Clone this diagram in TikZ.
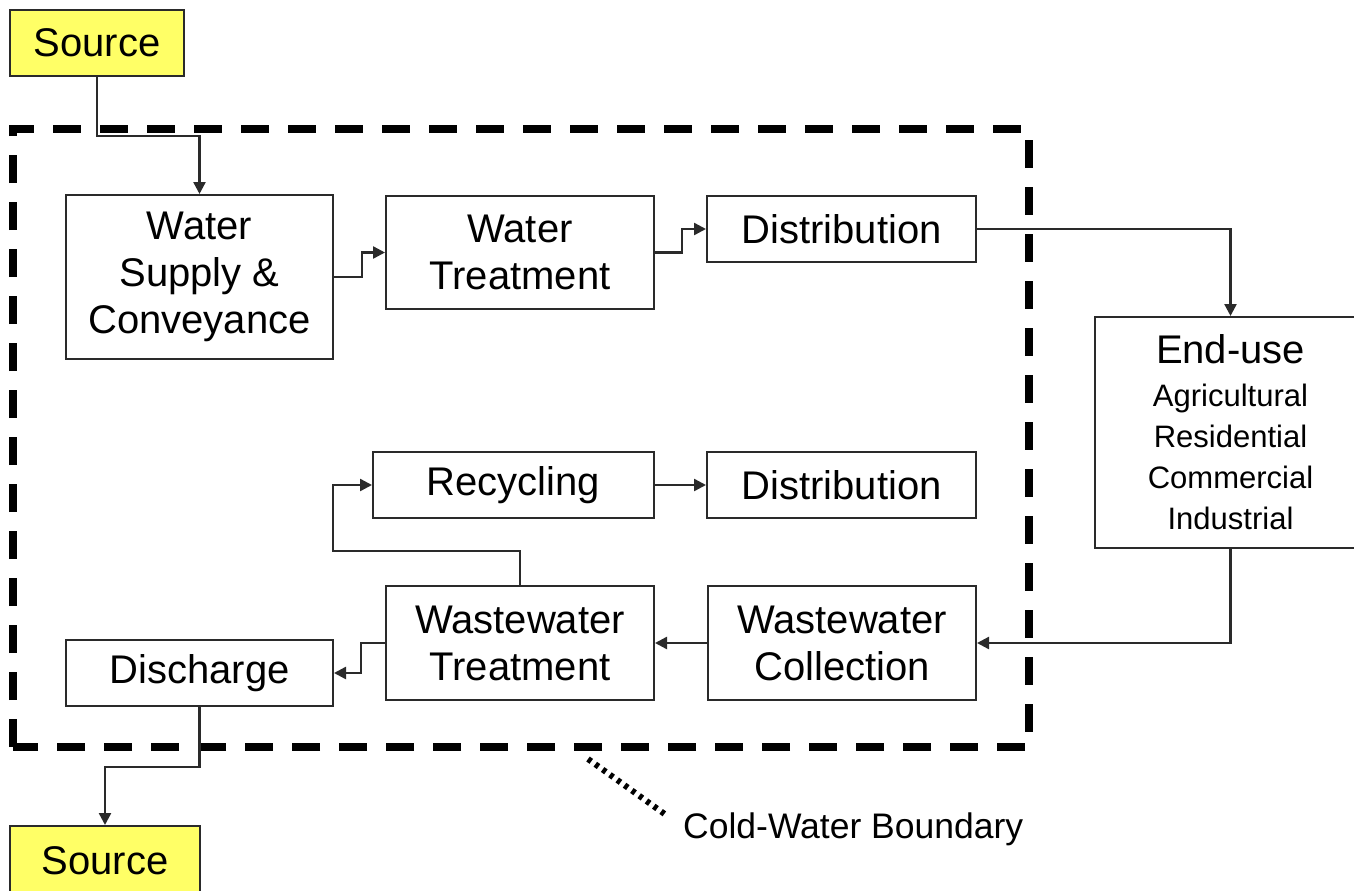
\documentclass[tikz,border=0pt]{standalone}
\usepackage{fontspec}
\setmainfont{Liberation Sans}
\usetikzlibrary{arrows.meta}
\definecolor{srcyellow}{HTML}{FFFF66}
\definecolor{edge}{HTML}{2A2A2A}
\tikzset{
  box/.style={draw=edge, line width=2pt, fill=white, inner sep=0pt, align=center,
    font=\fontsize{40}{47}\selectfont},
  srcbox/.style={box, fill=srcyellow},
  arr/.style={draw=edge, line width=2.4pt, -{Triangle[length=12pt,width=12pt]}},
  boundary/.style={line width=8.5pt, dash pattern=on 28pt off 19pt},
  dotline/.style={line width=6pt, dash pattern=on 4pt off 5pt},
}
\begin{document}
\begin{tikzpicture}[x=1pt,y=-1pt]
\useasboundingbox (0,0) rectangle (1354,891);
\clip (0,0) rectangle (1354,891);
\fill[white] (0,0) rectangle (1354,891);

% boundary
\draw[boundary] (13,747) -- (13,129) -- (1029,129) -- (1029,747) -- cycle;

% nodes
\node[srcbox, minimum width=174pt, minimum height=66pt] (src1) at (97,43) {Source};
\node[box, minimum width=267pt, minimum height=164pt] (wsc) at (199.5,277) {Water\\Supply \&\\Conveyance};
\node[box, minimum width=268pt, minimum height=113pt] (wt) at (520,252.5) {Water\\Treatment};
\node[box, minimum width=269pt, minimum height=66pt] (dist) at (841.5,229) {Distribution};
\node[box, minimum width=271pt, minimum height=231pt, font=\fontsize{31}{41}\selectfont] (enduse) at (1230.5,432.5)
  {{\fontsize{40}{44}\selectfont End-use}\\[2pt]Agricultural\\Residential\\Commercial\\Industrial};
\node[box, minimum width=281pt, minimum height=66pt] (rec) at (513.5,485) {Recycling};
\node[box, minimum width=269pt, minimum height=66pt] (dist2) at (841.5,485) {Distribution};
\node[box, minimum width=268pt, minimum height=114pt] (wwt) at (520,643) {Wastewater\\Treatment};
\node[box, minimum width=268pt, minimum height=114pt] (wwc) at (842,643) {Wastewater\\Collection};
\node[box, minimum width=267pt, minimum height=66pt] (dis) at (199.5,673) {Discharge};
\node[srcbox, minimum width=190pt, minimum height=70pt] (src2) at (105,861) {Source};

% label
\node[anchor=west, inner sep=0pt, font=\fontsize{35.5}{40}\selectfont] (lbl) at (683,829) {Cold-Water Boundary};
\coordinate (bnd) at (588,759);
\coordinate (bndend) at (666,815);
\draw[dotline] (bnd) -- (bndend);

% connectors
\draw[arr] (src1.south) -- ++(0,59) -| (wsc.north);
\draw[arr] (wsc.east) -- ++(28,0) |- (wt.west);
\draw[arr] (wt.east) -- ++(27,0) |- (dist.west);
\draw[arr] (dist.east) -| (enduse.north);
\draw[arr] (enduse.south) |- (wwc.east);
\draw[arr] (wwc.west) -- (wwt.east);
\draw[arr] (wwt.west) -- ++(-24,0) |- (dis.east);
\draw[arr] (wwt.north) -- ++(0,-34) -- ++(-187,0) |- (rec.west);
\draw[arr] (rec.east) -- (dist2.west);
\draw[arr] (dis.south) -- ++(0,60) -| (src2.north);
\end{tikzpicture}
\end{document}
